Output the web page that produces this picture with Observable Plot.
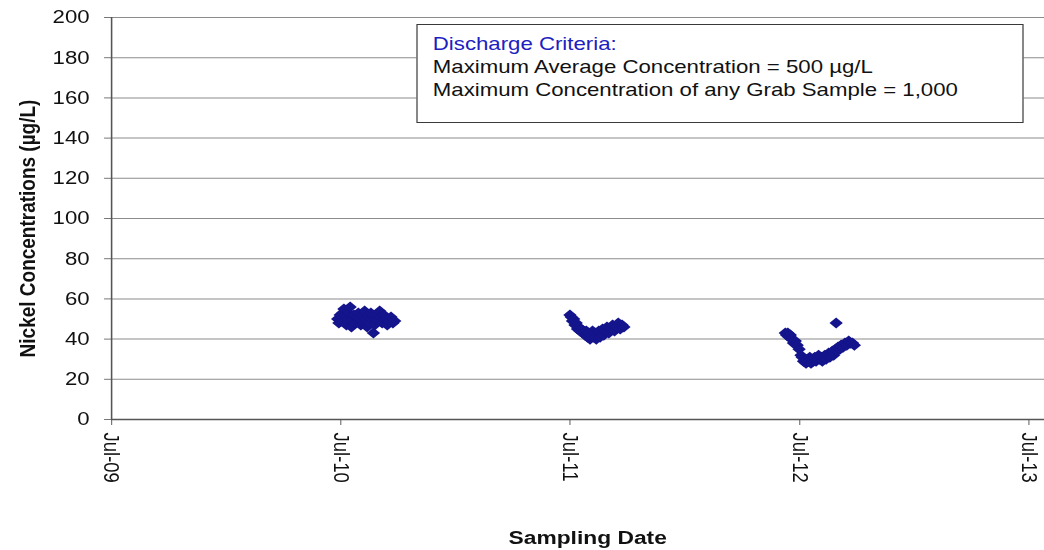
<!DOCTYPE html>
<html>
<head>
<meta charset="utf-8">
<script src="https://cdn.jsdelivr.net/npm/d3@7"></script>
<script src="https://cdn.jsdelivr.net/npm/@observablehq/plot@0.6"></script>
<style>
  body { margin: 0; background: #fff; }
  #wrap { position: relative; width: 870px; height: 550px; transform: scaleX(1.2); transform-origin: 0 0;
          font-family: "Liberation Sans", Arial, sans-serif; }
  #legend { position: absolute; left: 346.7px; top: 24px; width: 506.7px; height: 99px; box-sizing: border-box;
            border: 1.5px solid #3a3a3a; background: #fff; padding: 8px 0 0 13px; font-size: 18.5px;
            line-height: 22.8px; color: #111; }
  #legend .head { color: #2020c0; }
</style>
</head>
<body>
<div id="wrap"></div>
<script>
// ---- data ----
const dates2010 = ["2010-06-26","2010-06-28","2010-06-30","2010-07-02","2010-07-04","2010-07-06","2010-07-08","2010-07-10","2010-07-12","2010-07-14","2010-07-16","2010-07-18","2010-07-20","2010-07-22","2010-07-24","2010-07-27","2010-07-29","2010-07-31","2010-08-02","2010-08-04","2010-08-06","2010-08-08","2010-08-10","2010-08-12","2010-08-14","2010-08-16","2010-08-18","2010-08-20","2010-08-22","2010-08-24","2010-08-26","2010-08-28","2010-08-30","2010-09-01","2010-09-03","2010-09-05","2010-09-08","2010-09-10","2010-09-13","2010-09-16","2010-09-19","2010-09-22","2010-09-25"];
const nickel2010 = [50,48,52,49,53,55,51,47,50,53,56,46,50,52,48,51,53,50,47,49,52,54,50,46,48,51,53,52,43,47,50,52,49,54,51,48,52,50,47,49,51,48,49];

const dates2011 = ["2011-07-01","2011-07-03","2011-07-05","2011-07-07","2011-07-09","2011-07-11","2011-07-13","2011-07-15","2011-07-17","2011-07-19","2011-07-21","2011-07-23","2011-07-25","2011-07-27","2011-07-29","2011-07-31","2011-08-02","2011-08-04","2011-08-06","2011-08-08","2011-08-10","2011-08-12","2011-08-14","2011-08-16","2011-08-18","2011-08-20","2011-08-22","2011-08-24","2011-08-26","2011-08-29","2011-09-01","2011-09-04","2011-09-07","2011-09-10","2011-09-13","2011-09-16","2011-09-19","2011-09-22","2011-09-25"];
const nickel2011 = [52,51,49,50,47,48,45,46,44,45,43,44,42,44,41,43,40,42,44,41,43,40,42,44,41,43,45,42,44,46,43,45,47,44,46,48,45,47,46];

const dates2012 = ["2012-06-08","2012-06-10","2012-06-12","2012-06-14","2012-06-16","2012-06-18","2012-06-21","2012-06-24","2012-06-27","2012-06-30","2012-07-03","2012-07-05","2012-07-07","2012-07-09","2012-07-11","2012-07-13","2012-07-15","2012-07-17","2012-07-19","2012-07-21","2012-07-23","2012-07-25","2012-07-27","2012-07-29","2012-07-31","2012-08-02","2012-08-04","2012-08-06","2012-08-08","2012-08-10","2012-08-12","2012-08-14","2012-08-16","2012-08-18","2012-08-20","2012-08-22","2012-08-24","2012-08-27","2012-08-28","2012-08-29","2012-08-31","2012-09-03","2012-09-05","2012-09-08","2012-09-11","2012-09-14","2012-09-17","2012-09-20","2012-09-23","2012-09-26"];
const nickel2012 = [43,42,43,41,42,40,38,39,37,35,32,31,29,30,28,30,29,31,28,30,29,31,29,30,32,30,31,29,31,32,30,32,33,31,33,34,32,35,48,34,36,35,37,36,38,37,39,38,38,37];

const xTickDates = ["2009-07-01","2010-07-01","2011-07-01","2012-07-01","2013-07-01"];
const yTicks = [0,20,40,60,80,100,120,140,160,180,200];
const xDomain = ["2009-07-01","2013-07-26"];
const yTitle = "Nickel Concentrations (µg/L)";
const xTitle = "Sampling Date";
const criteriaHead = "Discharge Criteria:";
const criteriaLines = ["Maximum Average Concentration = 500 µg/L", "Maximum Concentration of any Grab Sample = 1,000"];

// ---- build rows ----
const rows = [];
[[dates2010, nickel2010], [dates2011, nickel2011], [dates2012, nickel2012]].forEach(([ds, vs]) => {
  ds.forEach((d, i) => rows.push({date: new Date(d), value: vs[i]}));
});

const font = '"Liberation Sans", Arial, sans-serif';
const chart = Plot.plot({
  width: 870, height: 550,
  marginLeft: 92.5, marginRight: 0, marginTop: 17, marginBottom: 131,
  style: {fontFamily: font, fontSize: "18.5px", color: "#111", background: "transparent", overflow: "visible"},
  x: {type: "utc", domain: xDomain.map(d => new Date(d))},
  y: {domain: [0, 200]},
  marks: [
    Plot.gridY(yTicks, {stroke: "#8c8c8c", strokeOpacity: 1, strokeWidth: 1}),
    Plot.axisY(yTicks, {tickSize: 5.8, tickPadding: 12.5, stroke: "#777", label: null, fontSize: 18.5, fill: "#111"}),
    Plot.axisX(xTickDates.map(d => new Date(d)), {tickSize: 6, tickPadding: 7, tickRotate: 90,
      tickFormat: d3.utcFormat("%b-%y"), label: null, stroke: "#777", fontSize: 18.5, fill: "#111"}),
    Plot.ruleX([new Date(xDomain[0])], {stroke: "#555", strokeWidth: 1.3}),
    Plot.ruleY([0], {stroke: "#555", strokeWidth: 1.3}),
    Plot.dot(rows, {x: "date", y: "value", symbol: "diamond2", r: 5, fill: "#14148c", stroke: "none"}),
    Plot.text([yTitle], {text: d => d, frameAnchor: "left", textAnchor: "middle", rotate: -90, dx: -70, dy: 10,
      fontWeight: "bold", fontSize: 19, fill: "#111"}),
    Plot.text([xTitle], {text: d => d, frameAnchor: "bottom", textAnchor: "middle", dx: 8, dy: 124,
      fontWeight: "bold", fontSize: 19, fill: "#111"})
  ]
});

const wrap = document.getElementById("wrap");
wrap.appendChild(chart);
const legend = document.createElement("div");
legend.id = "legend";
const head = document.createElement("div");
head.className = "head";
head.textContent = criteriaHead;
legend.appendChild(head);
criteriaLines.forEach(t => { const l = document.createElement("div"); l.textContent = t; legend.appendChild(l); });
wrap.appendChild(legend);
</script>
</body>
</html>
